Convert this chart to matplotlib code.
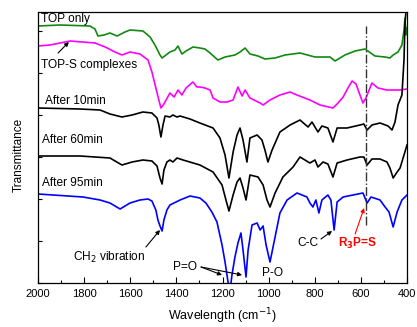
import matplotlib
matplotlib.use("Agg")
import matplotlib.pyplot as plt
from matplotlib.ticker import MultipleLocator, NullFormatter

plt.rcParams['font.family'] = ['Liberation Sans', 'DejaVu Sans']

# ---- data (wavenumber cm-1, arbitrary transmittance with offsets) ----
top_w = [2000, 1905, 1775, 1753, 1740, 1714, 1688, 1657, 1623, 1601, 1545, 1514, 1493, 1471, 1462,
         1445, 1428, 1406, 1393, 1376, 1358, 1328, 1298, 1276, 1254, 1220, 1189, 1146, 1124, 1102,
         1081, 1046, 1016, 972, 929, 864, 799, 734, 712, 669, 625, 582, 539, 495, 474, 460, 439,
         422, 413, 409, 404, 400]
top_y = [257, 258, 257, 254, 247, 248, 250, 247, 251, 253, 252, 246, 238, 228, 225,
         228, 231, 233, 237, 229, 232, 236, 235, 234, 230, 223, 226, 228, 231, 235,
         229, 227, 224, 225, 228, 230, 226, 226, 222, 228, 232, 234, 227, 226, 225, 228, 231,
         238, 253, 265, 248, 255]

tops_w = [2000, 1948, 1861, 1753, 1709, 1666, 1636, 1601, 1558, 1523, 1506, 1489, 1476, 1467, 1454,
          1428, 1410, 1393, 1376, 1358, 1328, 1311, 1298, 1276, 1254, 1241, 1211, 1180, 1154, 1133,
          1115, 1102, 1081, 1037, 1024, 994, 951, 907, 877, 821, 777, 721, 699, 677, 656, 638,
          621, 604, 591, 578, 552, 526, 487, 430, 400]
tops_y = [237, 238, 242, 240, 236, 231, 228, 231, 229, 223, 211, 195, 183, 175, 179,
          190, 186, 193, 188, 195, 201, 196, 196, 195, 193, 185, 181, 181, 183, 196,
          187, 193, 185, 180, 178, 183, 188, 191, 188, 183, 178, 175, 180, 186, 195, 202,
          199, 188, 180, 185, 200, 195, 193, 193, 194]

m10_w = [2000, 1818, 1731, 1688, 1636, 1592, 1545, 1506, 1484, 1476, 1467, 1458, 1449, 1428, 1415,
         1397, 1384, 1341, 1298, 1241, 1211, 1189, 1172, 1154, 1137, 1124, 1111, 1094, 1081, 1050,
         1029, 1016, 1003, 985, 951, 907, 864, 829, 812, 786, 769, 743, 721, 703, 660, 604,
         587, 573, 552, 517, 482, 465, 452, 439, 422, 413, 409, 404]
m10_y = [175, 174, 173, 169, 166, 168, 171, 170, 165, 158, 146, 158, 167, 166, 168,
         166, 167, 164, 160, 155, 145, 128, 105, 131, 148, 155, 143, 121, 145, 148,
         143, 133, 121, 133, 151, 158, 163, 156, 161, 151, 157, 155, 141, 155, 155, 158,
         159, 153, 158, 160, 157, 153, 161, 178, 188, 223, 258, 273]

m60_w = [2000, 1818, 1688, 1636, 1592, 1545, 1506, 1484, 1471, 1462, 1454, 1441, 1428, 1415, 1397,
         1371, 1298, 1241, 1202, 1185, 1172, 1154, 1137, 1124, 1111, 1098, 1081, 1046, 1024, 1007,
         994, 972, 938, 894, 864, 821, 799, 786, 764, 743, 721, 703, 660, 604, 587, 573, 552,
         517, 487, 474, 460, 443, 430, 413, 400]
m60_y = [127, 127, 125, 118, 121, 123, 122, 117, 105, 99, 113, 121, 123, 121, 125,
         123, 118, 111, 98, 83, 72, 88, 101, 105, 95, 83, 108, 106, 98, 83,
         76, 90, 106, 116, 126, 120, 123, 116, 121, 119, 106, 120, 123, 126, 126, 118, 124,
         124, 121, 115, 105, 111, 115, 128, 138]

m95_w = [2000, 1805, 1731, 1688, 1644, 1601, 1558, 1523, 1506, 1489, 1480, 1471, 1462, 1454, 1441,
         1428, 1384, 1341, 1298, 1272, 1246, 1224, 1202, 1189, 1176, 1167, 1159, 1146, 1133, 1120,
         1111, 1098, 1089, 1072, 1050, 1037, 1024, 1011, 994, 972, 951, 920, 877, 834, 821, 808,
         795, 782, 769, 743, 730, 716, 703, 677, 634, 591, 573, 556, 517, 495, 478, 460, 443,
         422, 400]
m95_y = [89, 86, 83, 80, 74, 80, 83, 84, 82, 73, 63, 57, 52, 63, 73,
         78, 83, 87, 85, 80, 71, 61, 38, 21, 1, -7, 8, 26, 40, 50,
         33, 6, 33, 58, 60, 53, 57, 38, 21, 46, 70, 83, 90, 86, 80, 76,
         83, 70, 83, 88, 83, 53, 81, 86, 88, 90, 80, 86, 83, 76, 71, 56, 71,
         83, 88]

rps_line_w = 579
rps_line_y = [58, 257]

fig = plt.figure(figsize=(4.17, 3.27), dpi=100)
ax = fig.add_axes([38/417, 44/327, 369/417, 271/327])

lw = 1.2
ax.plot(top_w, top_y, color='#118811', lw=lw)
ax.plot(tops_w, tops_y, color='#ff00ff', lw=lw)
ax.plot(m10_w, m10_y, color='black', lw=lw)
ax.plot(m60_w, m60_y, color='black', lw=lw)
ax.plot(m95_w, m95_y, color='#0000ff', lw=lw)
ax.plot([rps_line_w, rps_line_w], rps_line_y, color='#333333', lw=1.0, ls='-.')

ax.set_xlim(2000, 400)
ax.set_ylim(0, 271)

ax.xaxis.set_major_locator(MultipleLocator(200))
ax.xaxis.set_minor_locator(MultipleLocator(100))
ax.yaxis.set_major_locator(MultipleLocator(42))
ax.yaxis.set_major_formatter(NullFormatter())
ax.tick_params(axis='x', which='major', direction='in', length=4, width=0.8, labelsize=8, pad=4)
ax.tick_params(axis='x', which='minor', direction='in', length=2.5, width=0.8)
ax.tick_params(axis='y', which='major', direction='in', length=3, width=0.8)
for s in ax.spines.values():
    s.set_linewidth(0.9)

ax.set_xlabel('Wavelength (cm$^{-1}$)', fontsize=9, labelpad=6)
ax.set_ylabel('Transmittance', fontsize=8.5)
ax.yaxis.set_label_coords(-0.036, 0.472)

fs = 8.6
ax.text(1987, 264, 'TOP only', fontsize=fs, ha='left', va='center')
ax.text(1987, 218, 'TOP-S complexes', fontsize=fs, ha='left', va='center')
ax.text(1970, 182, 'After 10min', fontsize=fs, ha='left', va='center')
ax.text(1983, 143, 'After 60min', fontsize=fs, ha='left', va='center')
ax.text(1983, 100, 'After 95min', fontsize=fs, ha='left', va='center')
ax.text(1848, 26, 'CH$_2$ vibration', fontsize=fs, ha='left', va='center')
ax.text(1415, 16, 'P=O', fontsize=fs, ha='left', va='center')
ax.text(1029, 10, 'P-O', fontsize=fs, ha='left', va='center')
ax.text(877, 40, 'C-C', fontsize=fs, ha='left', va='center')
ax.text(699, 40, 'R$_\\mathbf{3}$P=S', fontsize=fs, ha='left', va='center',
        color='red', fontweight='bold')

ap = dict(arrowstyle='-|>', lw=0.8, color='black', mutation_scale=6, shrinkA=0, shrinkB=0)
ax.annotate('', xy=(1866, 241), xytext=(1913, 230), arrowprops=ap)
ax.annotate('', xy=(1471, 53), xytext=(1532, 36), arrowprops=ap)
ax.annotate('', xy=(1202, 8), xytext=(1293, 16), arrowprops=ap)
ax.annotate('', xy=(1115, 8), xytext=(1293, 16), arrowprops=ap)
ax.annotate('', xy=(725, 52), xytext=(773, 44), arrowprops=ap)
apr = dict(ap, color='red')
ax.annotate('', xy=(586, 75), xytext=(625, 49), arrowprops=apr)

fig.savefig('out.png', dpi=100)
